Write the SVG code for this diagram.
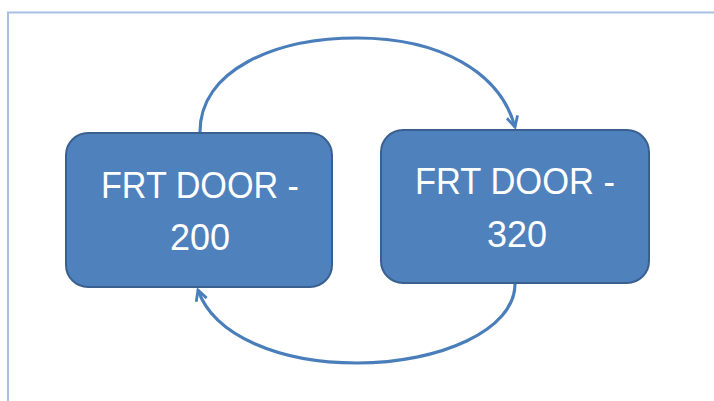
<svg xmlns="http://www.w3.org/2000/svg" width="714" height="401" viewBox="0 0 714 401">
<style>
.box{fill:#4F81BD;stroke:#3A6090;stroke-width:2}
.lbl{fill:#fff;font-family:"Liberation Sans",Arial,sans-serif;font-size:36px;text-anchor:middle}
.conn{fill:none;stroke:#4A7EBB;stroke-width:3.2}
</style>
<defs>
<marker id="arr" viewBox="0 0 14 14" refX="12" refY="7" markerWidth="14" markerHeight="14" markerUnits="userSpaceOnUse" orient="auto">
<path d="M1.5,1.5 L12,7 L1.5,12.5" fill="none" stroke="#4A7EBB" stroke-width="2.8" stroke-linejoin="miter"/>
</marker>
</defs>
<rect width="714" height="401" fill="#fff"/>
<path d="M8,401 V12.5 H714" fill="none" stroke="#A7C0E0" stroke-width="2"/>
<g id="connectors">
<path class="conn" d="M200,132 C200,70 275,38 357,38 C440,38 500,72 515,127" marker-end="url(#arr)"/>
<path class="conn" d="M515,284 C515,330 440,363 357,363 C280,363 214,336 198,290" marker-end="url(#arr)"/>
</g>
<g id="node1">
<rect class="box" x="66" y="133" width="266" height="154" rx="22"/>
<text class="lbl" x="200" y="198" textLength="198" lengthAdjust="spacingAndGlyphs">FRT DOOR -</text>
<text class="lbl" x="200" y="250">200</text>
</g>
<g id="node2">
<rect class="box" x="381" y="130" width="268" height="153" rx="22"/>
<text class="lbl" x="515" y="194" textLength="200" lengthAdjust="spacingAndGlyphs">FRT DOOR -</text>
<text class="lbl" x="517" y="247">320</text>
</g>
</svg>
